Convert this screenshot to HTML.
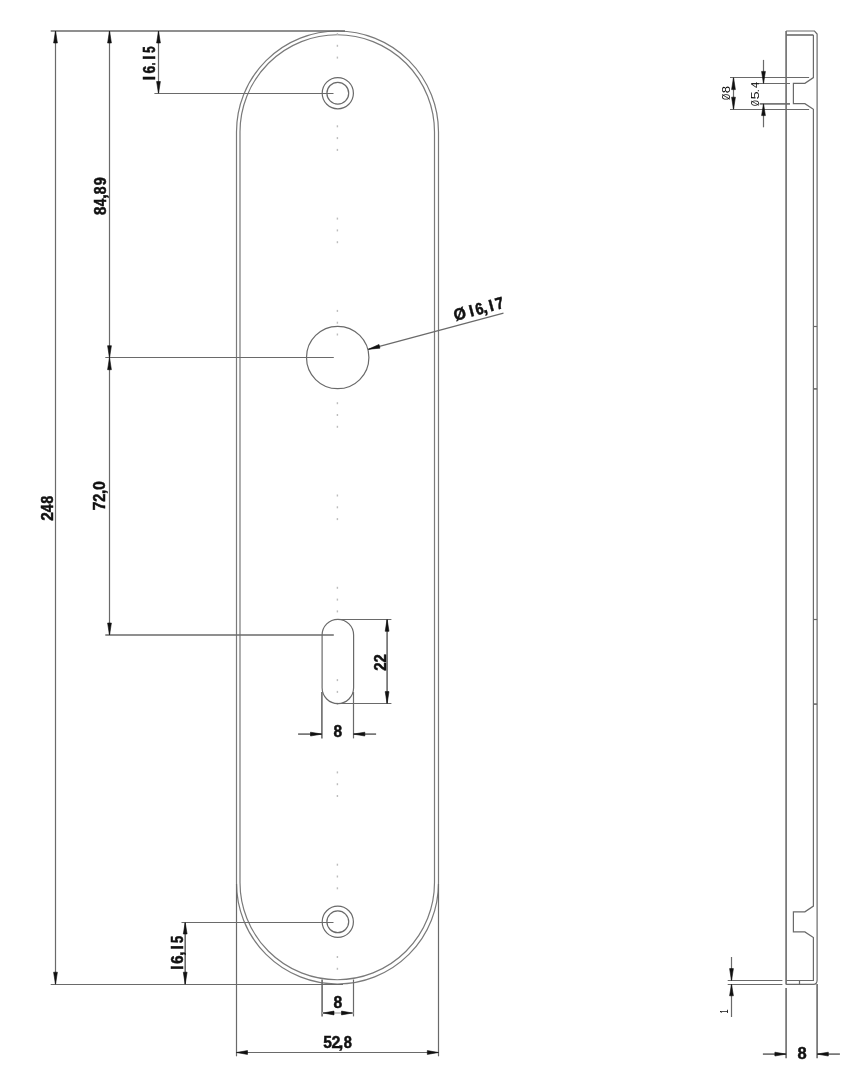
<!DOCTYPE html>
<html><head><meta charset="utf-8"><title>Drawing</title>
<style>
html,body{margin:0;padding:0;background:#fff;}
body{width:859px;height:1080px;overflow:hidden;}
svg{display:block;will-change:transform;}
</style></head>
<body>
<svg width="859" height="1080" viewBox="0 0 859 1080">
<rect width="859" height="1080" fill="#fff"/>
<path d="M236.50,132.0 A101.00,101.00 0 0 1 438.50,132.0 L438.50,883.0 A101.00,101.00 0 0 1 236.50,883.0 Z" stroke="#7a7a7a" stroke-width="1.2" fill="none"/>
<path d="M240.00,132.0 A97.25,97.25 0 0 1 434.50,132.0 L434.50,882.5 A97.25,97.25 0 0 1 240.00,882.5 Z" stroke="#7a7a7a" stroke-width="1.2" fill="none"/>
<rect x="336.70" y="33.00" width="1.4" height="2.0" fill="#bdbdbd"/>
<rect x="336.70" y="44.80" width="1.4" height="2.0" fill="#bdbdbd"/>
<rect x="336.70" y="56.60" width="1.4" height="2.0" fill="#bdbdbd"/>
<rect x="336.70" y="125.30" width="1.4" height="2.0" fill="#bdbdbd"/>
<rect x="336.70" y="137.10" width="1.4" height="2.0" fill="#bdbdbd"/>
<rect x="336.70" y="148.90" width="1.4" height="2.0" fill="#bdbdbd"/>
<rect x="336.70" y="217.60" width="1.4" height="2.0" fill="#bdbdbd"/>
<rect x="336.70" y="229.40" width="1.4" height="2.0" fill="#bdbdbd"/>
<rect x="336.70" y="241.20" width="1.4" height="2.0" fill="#bdbdbd"/>
<rect x="336.70" y="309.90" width="1.4" height="2.0" fill="#bdbdbd"/>
<rect x="336.70" y="321.70" width="1.4" height="2.0" fill="#bdbdbd"/>
<rect x="336.70" y="333.50" width="1.4" height="2.0" fill="#bdbdbd"/>
<rect x="336.70" y="402.20" width="1.4" height="2.0" fill="#bdbdbd"/>
<rect x="336.70" y="414.00" width="1.4" height="2.0" fill="#bdbdbd"/>
<rect x="336.70" y="425.80" width="1.4" height="2.0" fill="#bdbdbd"/>
<rect x="336.70" y="494.50" width="1.4" height="2.0" fill="#bdbdbd"/>
<rect x="336.70" y="506.30" width="1.4" height="2.0" fill="#bdbdbd"/>
<rect x="336.70" y="518.10" width="1.4" height="2.0" fill="#bdbdbd"/>
<rect x="336.70" y="586.80" width="1.4" height="2.0" fill="#bdbdbd"/>
<rect x="336.70" y="598.60" width="1.4" height="2.0" fill="#bdbdbd"/>
<rect x="336.70" y="610.40" width="1.4" height="2.0" fill="#bdbdbd"/>
<rect x="336.70" y="679.10" width="1.4" height="2.0" fill="#bdbdbd"/>
<rect x="336.70" y="690.90" width="1.4" height="2.0" fill="#bdbdbd"/>
<rect x="336.70" y="702.70" width="1.4" height="2.0" fill="#bdbdbd"/>
<rect x="336.70" y="771.40" width="1.4" height="2.0" fill="#bdbdbd"/>
<rect x="336.70" y="783.20" width="1.4" height="2.0" fill="#bdbdbd"/>
<rect x="336.70" y="795.00" width="1.4" height="2.0" fill="#bdbdbd"/>
<rect x="336.70" y="863.70" width="1.4" height="2.0" fill="#bdbdbd"/>
<rect x="336.70" y="875.50" width="1.4" height="2.0" fill="#bdbdbd"/>
<rect x="336.70" y="887.30" width="1.4" height="2.0" fill="#bdbdbd"/>
<rect x="336.70" y="956.00" width="1.4" height="2.0" fill="#bdbdbd"/>
<rect x="336.70" y="967.80" width="1.4" height="2.0" fill="#bdbdbd"/>
<circle cx="337.80" cy="93.20" r="15.60" stroke="#6a6a6a" stroke-width="1.2" fill="none"/>
<circle cx="337.80" cy="93.20" r="10.90" stroke="#6a6a6a" stroke-width="1.2" fill="none"/>
<circle cx="337.80" cy="921.80" r="15.60" stroke="#6a6a6a" stroke-width="1.2" fill="none"/>
<circle cx="337.80" cy="921.80" r="10.90" stroke="#6a6a6a" stroke-width="1.2" fill="none"/>
<circle cx="337.70" cy="357.50" r="31.20" stroke="#6a6a6a" stroke-width="1.2" fill="none"/>
<path d="M322.1,635.05 A15.75,15.75 0 0 1 353.6,635.05 L353.6,687.85 A15.75,15.75 0 0 1 322.1,687.85 Z" stroke="#6a6a6a" stroke-width="1.2" fill="none"/>
<line x1="50.70" y1="31.00" x2="345.00" y2="31.00" stroke="#6a6a6a" stroke-width="1.6" />
<line x1="50.70" y1="984.50" x2="343.00" y2="984.50" stroke="#6a6a6a" stroke-width="1.2" />
<line x1="154.40" y1="93.50" x2="333.50" y2="93.50" stroke="#6a6a6a" stroke-width="1.2" />
<line x1="105.30" y1="357.50" x2="333.80" y2="357.50" stroke="#6a6a6a" stroke-width="1.2" />
<line x1="105.30" y1="635.00" x2="333.80" y2="635.00" stroke="#6a6a6a" stroke-width="1.6" />
<line x1="181.50" y1="922.50" x2="333.50" y2="922.50" stroke="#6a6a6a" stroke-width="1.2" />
<line x1="55.50" y1="31.00" x2="55.50" y2="984.20" stroke="#6a6a6a" stroke-width="1.2" />
<line x1="109.50" y1="31.00" x2="109.50" y2="635.00" stroke="#6a6a6a" stroke-width="1.2" />
<line x1="158.50" y1="31.00" x2="158.50" y2="93.20" stroke="#6a6a6a" stroke-width="1.2" />
<line x1="185.20" y1="922.30" x2="185.20" y2="984.20" stroke="#6a6a6a" stroke-width="1.6" />
<line x1="368.30" y1="349.30" x2="503.50" y2="313.20" stroke="#6a6a6a" stroke-width="1.2" />
<line x1="335.00" y1="619.50" x2="391.40" y2="619.50" stroke="#6a6a6a" stroke-width="1.2" />
<line x1="335.00" y1="703.50" x2="391.40" y2="703.50" stroke="#6a6a6a" stroke-width="1.2" />
<line x1="387.10" y1="619.30" x2="387.10" y2="703.60" stroke="#6a6a6a" stroke-width="1.6" />
<line x1="321.90" y1="692.00" x2="321.90" y2="738.40" stroke="#6a6a6a" stroke-width="1.6" />
<line x1="353.50" y1="692.00" x2="353.50" y2="738.40" stroke="#6a6a6a" stroke-width="1.2" />
<line x1="298.10" y1="734.10" x2="321.90" y2="734.10" stroke="#6a6a6a" stroke-width="1.6" />
<line x1="353.40" y1="734.10" x2="376.10" y2="734.10" stroke="#6a6a6a" stroke-width="1.6" />
<line x1="322.10" y1="979.50" x2="322.10" y2="1016.40" stroke="#6a6a6a" stroke-width="1.6" />
<line x1="353.50" y1="979.50" x2="353.50" y2="1016.40" stroke="#6a6a6a" stroke-width="1.2" />
<line x1="322.10" y1="1013.00" x2="353.40" y2="1013.00" stroke="#bbb" stroke-width="1.6" />
<line x1="236.50" y1="884.00" x2="236.50" y2="1056.30" stroke="#6a6a6a" stroke-width="1.2" />
<line x1="438.50" y1="884.00" x2="438.50" y2="1056.30" stroke="#6a6a6a" stroke-width="1.2" />
<line x1="236.40" y1="1052.50" x2="438.50" y2="1052.50" stroke="#6a6a6a" stroke-width="1.2" />
<line x1="786.10" y1="31.00" x2="786.10" y2="984.40" stroke="#6a6a6a" stroke-width="1.6" />
<path d="M786.1,31.0 L814.5,31.0 L817.1,34.0 L817.1,980.0 Q817.1,984.4 813.5,984.4 L786.1,984.4" stroke="#6a6a6a" stroke-width="1.2" fill="none"/>
<line x1="786.10" y1="35.00" x2="813.40" y2="35.00" stroke="#6a6a6a" stroke-width="1.6" />
<path d="M813.4,35.0 L813.4,77.6 L804.9,83.30 L793.4,83.30 L793.4,103.70 L804.9,103.70 L813.4,109.3 L813.4,906.1 L804.9,911.80 L793.4,911.80 L793.4,931.90 L804.9,931.90 L813.4,937.5 L813.4,980.5 L786.1,980.5" stroke="#6a6a6a" stroke-width="1.2" fill="none"/>
<line x1="813.40" y1="326.50" x2="817.10" y2="326.50" stroke="#6a6a6a" stroke-width="1.2" />
<line x1="813.40" y1="388.90" x2="817.10" y2="388.90" stroke="#6a6a6a" stroke-width="1.6" />
<line x1="813.40" y1="619.50" x2="817.10" y2="619.50" stroke="#6a6a6a" stroke-width="1.2" />
<line x1="813.40" y1="704.10" x2="817.10" y2="704.10" stroke="#6a6a6a" stroke-width="1.6" />
<line x1="799.50" y1="980.50" x2="799.50" y2="984.40" stroke="#6a6a6a" stroke-width="1.2" />
<line x1="730.00" y1="77.50" x2="809.10" y2="77.50" stroke="#6a6a6a" stroke-width="1.2" />
<line x1="730.00" y1="109.50" x2="809.10" y2="109.50" stroke="#6a6a6a" stroke-width="1.2" />
<line x1="733.50" y1="77.70" x2="733.50" y2="109.20" stroke="#6a6a6a" stroke-width="1.2" />
<line x1="752.00" y1="83.50" x2="790.00" y2="83.50" stroke="#6a6a6a" stroke-width="1.2" />
<line x1="759.70" y1="103.90" x2="790.00" y2="103.90" stroke="#6a6a6a" stroke-width="1.6" />
<line x1="763.50" y1="59.90" x2="763.50" y2="83.40" stroke="#6a6a6a" stroke-width="1.2" />
<line x1="763.50" y1="103.90" x2="763.50" y2="127.30" stroke="#6a6a6a" stroke-width="1.2" />
<line x1="727.70" y1="980.50" x2="782.40" y2="980.50" stroke="#6a6a6a" stroke-width="1.2" />
<line x1="727.70" y1="984.50" x2="782.40" y2="984.50" stroke="#6a6a6a" stroke-width="1.2" />
<line x1="731.50" y1="957.00" x2="731.50" y2="980.50" stroke="#6a6a6a" stroke-width="1.2" />
<line x1="731.50" y1="984.30" x2="731.50" y2="1017.00" stroke="#6a6a6a" stroke-width="1.2" />
<line x1="786.10" y1="988.00" x2="786.10" y2="1058.30" stroke="#6a6a6a" stroke-width="1.6" />
<line x1="817.10" y1="984.00" x2="817.10" y2="1058.30" stroke="#6a6a6a" stroke-width="1.6" />
<line x1="762.90" y1="1054.10" x2="786.10" y2="1054.10" stroke="#6a6a6a" stroke-width="1.6" />
<line x1="817.10" y1="1054.10" x2="839.90" y2="1054.10" stroke="#6a6a6a" stroke-width="1.6" />
<g transform="translate(155.40,79.00) rotate(-90)" font-family="Liberation Sans" font-size="16.5" font-weight="bold" fill="#111"><text transform="translate(-1.17,0) scale(0.947,1)" stroke="#111" stroke-width="0.475">I</text><text transform="translate(5.46,0) scale(0.859,1)" stroke="#111" stroke-width="0.524">6</text><text transform="translate(13.87,0) scale(0.537,1)" stroke="#111" stroke-width="0.838">.</text><text transform="translate(19.18,0) scale(0.905,1)" stroke="#111" stroke-width="0.497">I</text><text transform="translate(26.23,0) scale(0.688,1)" stroke="#111" stroke-width="0.654">5</text></g>
<g transform="translate(105.90,214.80) rotate(-90)" font-family="Liberation Sans" font-size="16.5" font-weight="bold" fill="#111"><text transform="translate(-0.30,0) scale(0.915,1)" stroke="#111" stroke-width="0.492">8</text><text transform="translate(8.47,0) scale(0.832,1)" stroke="#111" stroke-width="0.541">4</text><text transform="translate(15.87,0) scale(1.080,1)" stroke="#111" stroke-width="0.417">,</text><text transform="translate(20.63,0) scale(0.853,1)" stroke="#111" stroke-width="0.527">8</text><text transform="translate(29.48,0) scale(0.870,1)" stroke="#111" stroke-width="0.517">9</text></g>
<g transform="translate(52.60,520.30) rotate(-90)" font-family="Liberation Sans" font-size="16.5" font-weight="bold" fill="#111"><text transform="translate(-0.46,0) scale(0.938,1)" stroke="#111" stroke-width="0.480">2</text><text transform="translate(8.16,0) scale(0.854,1)" stroke="#111" stroke-width="0.527">4</text><text transform="translate(16.62,0) scale(0.878,1)" stroke="#111" stroke-width="0.513">8</text></g>
<g transform="translate(105.10,509.80) rotate(-90)" font-family="Liberation Sans" font-size="16.5" font-weight="bold" fill="#111"><text transform="translate(-0.63,0) scale(0.988,1)" stroke="#111" stroke-width="0.455">7</text><text transform="translate(7.97,0) scale(0.875,1)" stroke="#111" stroke-width="0.514">2</text><text transform="translate(15.46,0) scale(0.996,1)" stroke="#111" stroke-width="0.452">,</text><text transform="translate(19.84,0) scale(0.975,1)" stroke="#111" stroke-width="0.462">0</text></g>
<g transform="translate(182.60,968.70) rotate(-90)" font-family="Liberation Sans" font-size="16.5" font-weight="bold" fill="#111"><text transform="translate(-1.12,0) scale(0.905,1)" stroke="#111" stroke-width="0.497">I</text><text transform="translate(4.83,0) scale(0.896,1)" stroke="#111" stroke-width="0.502">6</text><text transform="translate(12.81,0) scale(1.038,1)" stroke="#111" stroke-width="0.434">,</text><text transform="translate(19.23,0) scale(0.947,1)" stroke="#111" stroke-width="0.475">I</text><text transform="translate(25.78,0) scale(0.773,1)" stroke="#111" stroke-width="0.582">5</text></g>
<g transform="translate(385.70,670.40) rotate(-90)" font-family="Liberation Sans" font-size="16.5" font-weight="bold" fill="#111"><text transform="translate(-0.44,0) scale(0.900,1)" stroke="#111" stroke-width="0.500">2</text><text transform="translate(7.96,0) scale(0.900,1)" stroke="#111" stroke-width="0.500">2</text></g>
<g transform="translate(323.60,1048.30) rotate(0)" font-family="Liberation Sans" font-size="16.5" font-weight="bold" fill="#111"><text transform="translate(-0.40,0) scale(0.944,1)" stroke="#111" stroke-width="0.477">5</text><text transform="translate(7.92,0) scale(0.976,1)" stroke="#111" stroke-width="0.461">2</text><text transform="translate(14.62,0) scale(1.123,1)" stroke="#111" stroke-width="0.401">,</text><text transform="translate(20.11,0) scale(0.890,1)" stroke="#111" stroke-width="0.506">8</text></g>
<g transform="translate(334.00,737.20) rotate(0)" font-family="Liberation Sans" font-size="16.5" font-weight="bold" fill="#111"><text transform="translate(-0.42,0) scale(0.939,1)" stroke="#111" stroke-width="0.479">8</text></g>
<g transform="translate(334.00,1008.40) rotate(0)" font-family="Liberation Sans" font-size="16.5" font-weight="bold" fill="#111"><text transform="translate(-0.42,0) scale(0.951,1)" stroke="#111" stroke-width="0.473">8</text></g>
<g transform="translate(798.00,1059.20) rotate(0)" font-family="Liberation Sans" font-size="16.5" font-weight="bold" fill="#111"><text transform="translate(-0.45,0) scale(1.001,1)" stroke="#111" stroke-width="0.450">8</text></g>
<g transform="translate(455.00,321.00) rotate(-15)" font-family="Liberation Sans" font-size="16.5" font-weight="bold" fill="#111"><text transform="translate(0.22,0) scale(0.963,1)" stroke="#111" stroke-width="0.467">&#216;</text><text transform="translate(16.43,0) scale(0.947,1)" stroke="#111" stroke-width="0.475">I</text><text transform="translate(22.66,0) scale(0.859,1)" stroke="#111" stroke-width="0.524">6</text><text transform="translate(29.81,0) scale(1.038,1)" stroke="#111" stroke-width="0.434">,</text><text transform="translate(36.83,0) scale(0.947,1)" stroke="#111" stroke-width="0.475">I</text><text transform="translate(43.45,0) scale(0.885,1)" stroke="#111" stroke-width="0.509">7</text></g>
<g transform="translate(729.80,100.00) rotate(-90)" font-family="Liberation Sans" font-size="11" font-weight="normal" fill="#111"><text transform="translate(-0.03,0) scale(0.730,1)">&#216;</text><text transform="translate(6.68,0) scale(1.201,1)">8</text></g>
<g transform="translate(759.40,105.80) rotate(-90)" font-family="Liberation Sans" font-size="11" font-weight="normal" fill="#111"><text transform="translate(-0.31,0) scale(0.679,1)">&#216;</text><text transform="translate(6.36,0) scale(1.342,1)">5</text><text transform="translate(13.30,0) scale(1.146,1)">.</text><text transform="translate(17.89,0) scale(1.010,1)">4</text></g>
<g transform="translate(728.00,1013.00) rotate(-90)" font-family="Liberation Sans" font-size="11" font-weight="normal" fill="#111"><text transform="translate(-0.60,0) scale(0.654,1)">1</text></g>
<path d="M55.50,31.00 L53.60,43.00 L57.40,43.00 Z" fill="#111" stroke="#111" stroke-width="0.6" stroke-linejoin="round"/>
<path d="M55.50,984.20 L57.40,972.20 L53.60,972.20 Z" fill="#111" stroke="#111" stroke-width="0.6" stroke-linejoin="round"/>
<path d="M109.50,31.00 L107.60,43.00 L111.40,43.00 Z" fill="#111" stroke="#111" stroke-width="0.6" stroke-linejoin="round"/>
<path d="M109.50,357.70 L111.40,345.70 L107.60,345.70 Z" fill="#111" stroke="#111" stroke-width="0.6" stroke-linejoin="round"/>
<path d="M109.50,357.70 L107.60,369.70 L111.40,369.70 Z" fill="#111" stroke="#111" stroke-width="0.6" stroke-linejoin="round"/>
<path d="M109.50,635.00 L111.40,623.00 L107.60,623.00 Z" fill="#111" stroke="#111" stroke-width="0.6" stroke-linejoin="round"/>
<path d="M158.50,31.00 L156.60,43.00 L160.40,43.00 Z" fill="#111" stroke="#111" stroke-width="0.6" stroke-linejoin="round"/>
<path d="M158.50,93.20 L160.40,81.50 L156.60,81.50 Z" fill="#111" stroke="#111" stroke-width="0.6" stroke-linejoin="round"/>
<path d="M185.20,922.50 L183.30,934.00 L187.10,934.00 Z" fill="#111" stroke="#111" stroke-width="0.6" stroke-linejoin="round"/>
<path d="M185.20,984.20 L187.10,972.20 L183.30,972.20 Z" fill="#111" stroke="#111" stroke-width="0.6" stroke-linejoin="round"/>
<path d="M368.30,349.30 L379.99,348.14 L379.01,344.46 Z" fill="#111" stroke="#111" stroke-width="0.6" stroke-linejoin="round"/>
<path d="M387.10,619.30 L385.20,631.30 L389.00,631.30 Z" fill="#111" stroke="#111" stroke-width="0.6" stroke-linejoin="round"/>
<path d="M387.10,703.60 L389.00,691.60 L385.20,691.60 Z" fill="#111" stroke="#111" stroke-width="0.6" stroke-linejoin="round"/>
<path d="M321.90,734.10 L310.50,732.20 L310.50,736.00 Z" fill="#111" stroke="#111" stroke-width="0.6" stroke-linejoin="round"/>
<path d="M353.40,734.10 L364.80,736.00 L364.80,732.20 Z" fill="#111" stroke="#111" stroke-width="0.6" stroke-linejoin="round"/>
<path d="M323.00,1013.00 L334.00,1014.90 L334.00,1011.10 Z" fill="#111" stroke="#111" stroke-width="0.6" stroke-linejoin="round"/>
<path d="M352.50,1013.00 L341.50,1011.10 L341.50,1014.90 Z" fill="#111" stroke="#111" stroke-width="0.6" stroke-linejoin="round"/>
<path d="M236.40,1052.50 L247.50,1054.40 L247.50,1050.60 Z" fill="#111" stroke="#111" stroke-width="0.6" stroke-linejoin="round"/>
<path d="M438.50,1052.50 L427.30,1050.60 L427.30,1054.40 Z" fill="#111" stroke="#111" stroke-width="0.6" stroke-linejoin="round"/>
<path d="M733.50,77.70 L731.60,89.60 L735.40,89.60 Z" fill="#111" stroke="#111" stroke-width="0.6" stroke-linejoin="round"/>
<path d="M733.50,109.20 L735.40,97.20 L731.60,97.20 Z" fill="#111" stroke="#111" stroke-width="0.6" stroke-linejoin="round"/>
<path d="M763.50,83.40 L765.40,71.40 L761.60,71.40 Z" fill="#111" stroke="#111" stroke-width="0.6" stroke-linejoin="round"/>
<path d="M763.50,103.90 L761.60,115.60 L765.40,115.60 Z" fill="#111" stroke="#111" stroke-width="0.6" stroke-linejoin="round"/>
<path d="M731.50,980.50 L733.40,968.60 L729.60,968.60 Z" fill="#111" stroke="#111" stroke-width="0.6" stroke-linejoin="round"/>
<path d="M731.50,984.30 L729.60,995.80 L733.40,995.80 Z" fill="#111" stroke="#111" stroke-width="0.6" stroke-linejoin="round"/>
<path d="M786.10,1054.10 L774.90,1052.20 L774.90,1056.00 Z" fill="#111" stroke="#111" stroke-width="0.6" stroke-linejoin="round"/>
<path d="M817.10,1054.10 L828.30,1056.00 L828.30,1052.20 Z" fill="#111" stroke="#111" stroke-width="0.6" stroke-linejoin="round"/>
</svg>
</body></html>
